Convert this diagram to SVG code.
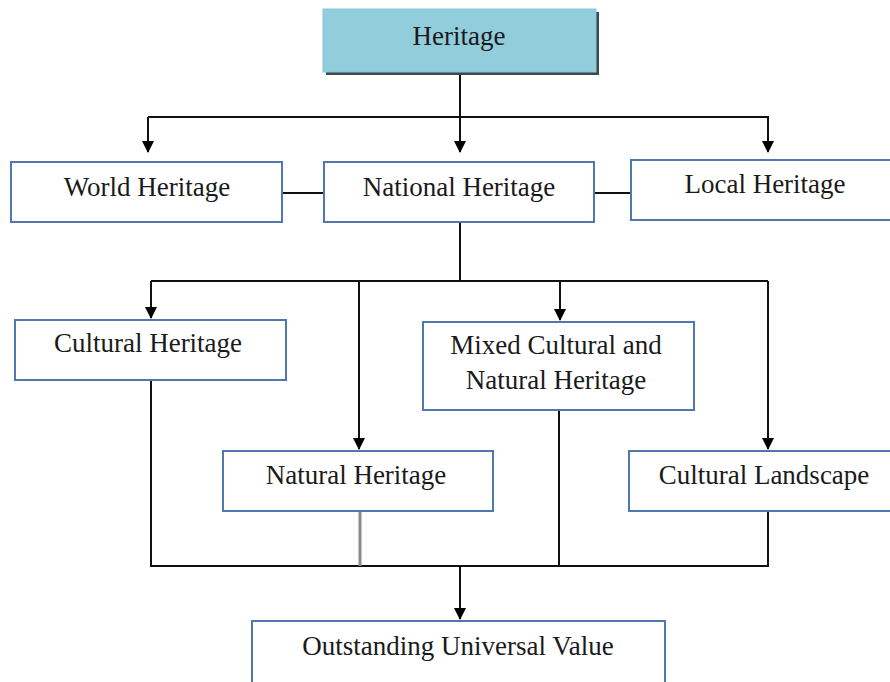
<svg xmlns="http://www.w3.org/2000/svg" width="890" height="682" viewBox="0 0 890 682">
<style>
.box{fill:#ffffff;stroke:#4f78ae;stroke-width:2}
.t{font-family:"Liberation Serif","Times New Roman",Times,"DejaVu Serif",serif;font-size:27px;fill:#1a1a1a;text-anchor:middle}
.ln{fill:none;stroke:#111111;stroke-width:2}
.gr{fill:none;stroke:#8a8a8a;stroke-width:3}
</style>
<defs>
<marker id="ah" markerWidth="12" markerHeight="12" viewBox="0 0 12 12" refX="11" refY="6" orient="auto" markerUnits="userSpaceOnUse">
<path d="M0,0 L12,6 L0,12 z" fill="#000000"/>
</marker>
</defs>
<rect width="890" height="682" fill="#ffffff"/>
<g id="connectors">
<path class="ln" d="M460,72 V152" marker-end="url(#ah)"/>
<path class="ln" d="M148,117 H768 V152" marker-end="url(#ah)"/>
<path class="ln" d="M148,117 V152" marker-end="url(#ah)"/>
<path class="ln" d="M282,193 H324"/>
<path class="ln" d="M594,193 H631"/>
<path class="ln" d="M460,222 V281"/>
<path class="ln" d="M151,281 H768"/>
<path class="ln" d="M151,281 V318" marker-end="url(#ah)"/>
<path class="ln" d="M359,281 V449" marker-end="url(#ah)"/>
<path class="ln" d="M560,281 V320" marker-end="url(#ah)"/>
<path class="ln" d="M768,281 V449" marker-end="url(#ah)"/>
<path class="ln" d="M151,380 V566 H768 V511"/>
<path class="ln" d="M559,410 V566"/>
<path class="gr" d="M360,511 V566"/>
<path class="ln" d="M460,566 V619" marker-end="url(#ah)"/>
</g>
<g id="heritage">
<rect x="326" y="12" width="273" height="63" fill="#3a4a50"/>
<rect x="323" y="9" width="273" height="63" fill="#92cddc" stroke="#8cc6d6" stroke-width="1"/>
<text class="t" x="459" y="45">Heritage</text>
</g>
<g id="world">
<rect class="box" x="11" y="162" width="271" height="60"/>
<text class="t" x="147" y="196">World Heritage</text>
</g>
<g id="national">
<rect class="box" x="324" y="162" width="270" height="60"/>
<text class="t" x="459" y="196">National Heritage</text>
</g>
<g id="local">
<rect class="box" x="631" y="160" width="270" height="60"/>
<text class="t" x="765" y="193">Local Heritage</text>
</g>
<g id="cultural">
<rect class="box" x="15" y="320" width="271" height="60"/>
<text class="t" x="148" y="352">Cultural Heritage</text>
</g>
<g id="mixed">
<rect class="box" x="423" y="322" width="271" height="88"/>
<text class="t" x="556" y="354">Mixed Cultural and</text>
<text class="t" x="556" y="389">Natural Heritage</text>
</g>
<g id="natural">
<rect class="box" x="223" y="451" width="270" height="60"/>
<text class="t" x="356" y="484">Natural Heritage</text>
</g>
<g id="landscape">
<rect class="box" x="629" y="451" width="272" height="60"/>
<text class="t" x="764" y="484">Cultural Landscape</text>
</g>
<g id="ouv">
<rect class="box" x="252" y="621" width="413" height="70"/>
<text class="t" x="458" y="655">Outstanding Universal Value</text>
</g>
</svg>
